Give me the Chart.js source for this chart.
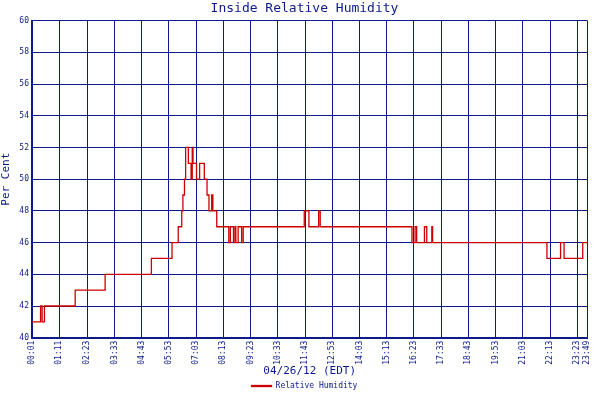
<!DOCTYPE html>
<html>
<head>
<meta charset="utf-8">
<script src="https://cdn.jsdelivr.net/npm/chart.js@4"></script>
<style>
  body { margin:0; background:#fff; }
  #wrap { width:600px; height:400px; }
</style>
</head>
<body>
<div id="wrap"><canvas id="grafica"></canvas></div>
<script>
// minutes since midnight of each reading change, and the humidity value
const minutos = [1,23,27,33,112,189,308,361,377,386,389,393,396,403,410,413,415,424,432,444,451,456,463,466,476,507,511,519,523,525,531,540,544,701,713,738,742,978,986,990,1010,1016,1029,1031,1325,1360,1369,1372,1417,1429];
const humedad = [41,42,41,42,43,44,45,46,47,48,49,50,52,51,50,52,51,50,51,50,49,48,49,48,47,46,47,46,47,46,47,46,47,48,47,48,47,46,47,46,47,46,47,46,45,46,45,45,46,46];
const tickMin = [1,71,143,213,283,353,423,493,563,633,703,773,843,913,983,1053,1123,1193,1263,1333,1403,1429];
const tickTxt = ['00:01','01:11','02:23','03:33','04:43','05:53','07:03','08:13','09:23','10:33','11:43','12:53','14:03','15:13','16:23','17:33','18:43','19:53','21:03','22:13','23:23','23:49'];

const azul = '#0c1a8c';
const fuente = 'DejaVu Sans Mono';

new Chart(document.getElementById('grafica'), {
  type: 'line',
  data: {
    datasets: [{
      label: 'Relative Humidity',
      data: minutos.map((m, i) => ({x: m, y: humedad[i]})),
      borderColor: '#cc0000',
      backgroundColor: '#cc0000',
      borderWidth: 1.3,
      stepped: 'before',
      pointRadius: 0
    }]
  },
  options: {
    animation: false,
    responsive: true,
    maintainAspectRatio: false,
    layout: { padding: { left: 0, right: -9, top: 0, bottom: 0 } },
    plugins: {
      title: { display: true, text: 'Inside Relative Humidity', color: azul,
        font: { family: fuente, size: 13, weight: 'normal' }, padding: { top: 1, bottom: 4 } },
      legend: { position: 'bottom',
        labels: { color: azul, boxWidth: 20, boxHeight: 1, padding: 2,
          font: { family: fuente, size: 8 } } },
      tooltip: { enabled: false }
    },
    scales: {
      x: {
        type: 'linear', min: 1, max: 1429,
        afterBuildTicks: s => { s.ticks = tickMin.map(v => ({value: v})); },
        ticks: { autoSkip: false, maxRotation: 90, minRotation: 90, color: azul,
          font: { family: fuente, size: 8 },
          callback: (v) => tickTxt[tickMin.indexOf(v)] },
        grid: { color: azul, lineWidth: 1, drawTicks: false },
        border: { color: azul, width: 2 },
        title: { display: true, text: '04/26/12 (EDT)', color: azul,
          font: { family: fuente, size: 11 }, padding: { top: 2, bottom: 2 } },
        afterFit: s => { s.height -= 5; }
      },
      y: {
        min: 40, max: 60,
        ticks: { stepSize: 2, color: azul, font: { family: fuente, size: 8 }, padding: 3 },
        grid: { color: azul, lineWidth: 1, drawTicks: false },
        border: { color: azul, width: 2 },
        title: { display: true, text: 'Per Cent', color: azul,
          font: { family: fuente, size: 11 }, padding: 0 },
        afterFit: s => { s.width = 32; }
      }
    }
  }
});
</script>
</body>
</html>
